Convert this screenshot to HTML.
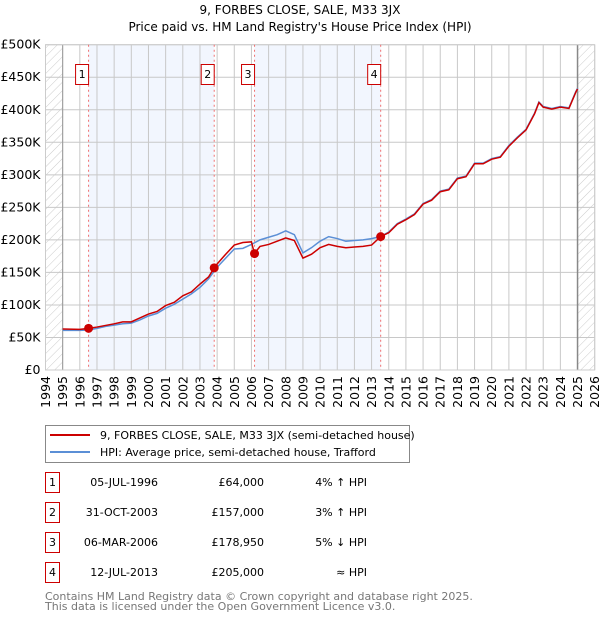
<!DOCTYPE html>
<html><head><meta charset="utf-8"><style>
body{margin:0;background:#fff;font-family:"DejaVu Sans","Liberation Sans",sans-serif;}
svg text{font-family:"DejaVu Sans","Liberation Sans",sans-serif;}
</style></head><body>
<svg id="c" width="600" height="620" xmlns="http://www.w3.org/2000/svg">
<defs><pattern id="hatch" width="6" height="6" patternUnits="userSpaceOnUse" patternTransform="rotate(45)"><line x1="0" y1="0" x2="0" y2="6" stroke="#ccc" stroke-width="1"/></pattern></defs>
<text x="300" y="14" text-anchor="middle" font-size="12">9, FORBES CLOSE, SALE, M33 3JX</text>
<text x="300" y="31" text-anchor="middle" font-size="12">Price paid vs. HM Land Registry's House Price Index (HPI)</text>
<g id="plot"></g>
<g>
<rect x="45.5" y="425.5" width="364" height="37" fill="#fff" stroke="#888"/>
<line x1="50" y1="435" x2="90" y2="435" stroke="#cc0000" stroke-width="2"/>
<text x="100" y="439" font-size="11">9, FORBES CLOSE, SALE, M33 3JX (semi-detached house)</text>
<line x1="50" y1="452" x2="90" y2="452" stroke="#5b8fd6" stroke-width="2"/>
<text x="100" y="456" font-size="11">HPI: Average price, semi-detached house, Trafford</text>
</g>
<g id="table" font-size="11"></g>
<text x="45" y="600" font-size="11" fill="#777">Contains HM Land Registry data © Crown copyright and database right 2025.</text>
<text x="45" y="610" font-size="11" fill="#777">This data is licensed under the Open Government Licence v3.0.</text>
</svg>
<script>
const years=[1994,1995,1996,1997,1998,1999,2000,2001,2002,2003,2004,2005,2006,2007,2008,2009,2010,2011,2012,2013,2014,2015,2016,2017,2018,2019,2020,2021,2022,2023,2024,2025,2026];
const yTicks=[0,50,100,150,200,250,300,350,400,450,500];
const yLabels=["£0","£50K","£100K","£150K","£200K","£250K","£300K","£350K","£400K","£450K","£500K"];
const hpiT=[1995,1995.5,1996,1996.5,1997,1997.5,1998,1998.5,1999,1999.5,2000,2000.5,2001,2001.5,2002,2002.5,2003,2003.5,2004,2004.5,2005,2005.5,2006,2006.5,2007,2007.5,2008,2008.5,2009,2009.5,2010,2010.5,2011,2011.5,2012,2012.5,2013,2013.5,2014,2014.5,2015,2015.5,2016,2016.5,2017,2017.5,2018,2018.5,2019,2019.5,2020,2020.5,2021,2021.5,2022,2022.5,2022.75,2023,2023.5,2024,2024.5,2024.9,2025];
const hpiV=[61,61,61,61.5,64,67,69,71,72,77,83,87,95,101,109,117,127,140,158,172,186,187,193,200,204,208,214,208,180,188,198,205,202,198,199,200,202,205,212,225,232,240,256,262,275,278,295,298,318,318,325,328,345,358,370,395,412,405,402,405,403,428,433];
const priceT=[1995,1996,1996.5,1997,1998,1998.5,1999,1999.5,2000,2000.5,2001,2001.5,2002,2002.5,2003,2003.5,2003.83,2004,2004.5,2005,2005.5,2006,2006.17,2006.5,2007,2007.5,2008,2008.5,2009,2009.5,2010,2010.5,2011,2011.5,2012,2012.5,2013,2013.53,2014,2014.5,2015,2015.5,2016,2016.5,2017,2017.5,2018,2018.5,2019,2019.5,2020,2020.5,2021,2021.5,2022,2022.5,2022.75,2023,2023.5,2024,2024.5,2024.9,2025];
const priceV=[63,62.5,64,66,71,74,74,80,86,90,99,104,114,120,132,143,157,163,178,192,196,197,179,190,193,198,203,199,172,178,188,193,190,188,189,190,192,205,211,224,231,239,255,261,274,277,294,297,317,317,324,327,344,357,369,394,411,404,401,404,402,427,432];
const saleT=[1996.51,2003.83,2006.18,2013.53];
const saleV=[64,157,178.95,205];
const saleLabels=["1","2","3","4"];
const saleDates=["05-JUL-1996","31-OCT-2003","06-MAR-2006","12-JUL-2013"];
const salePrices=["£64,000","£157,000","£178,950","£205,000"];
const saleHpi=["4% ↑ HPI","3% ↑ HPI","5% ↓ HPI","≈ HPI"];

const L=45.5,R=594.7,T=44.7,B=370;
const x=t=>L+(t-1994)*(R-L)/32;
const y=v=>B-v*(B-T)/500;
const NS="http://www.w3.org/2000/svg";
function mk(tag,attrs,parent){const e=document.createElementNS(NS,tag);for(const k in attrs)e.setAttribute(k,attrs[k]);parent.appendChild(e);return e;}
const g=document.getElementById('plot');
for(let i=0;i<saleT.length;i+=2){
 const r=mk('rect',{x:x(saleT[i]),y:T,width:x(saleT[i+1])-x(saleT[i]),height:B-T,fill:'#f2f6fe'},g);
 
 
}
const h1=mk('rect',{x:L,y:T,width:x(1995)-L,height:B-T,fill:'url(#hatch)'},g);


const h2=mk('rect',{x:x(2025),y:T,width:R-x(2025),height:B-T,fill:'url(#hatch)'},g);


yTicks.forEach((v,i)=>{
 const ln=mk('line',{x1:L,x2:R,y1:y(v),y2:y(v),stroke:'#c8c8c8','stroke-width':1},g);
 
 
 const t=mk('text',{x:L-5,y:y(v)+4,'text-anchor':'end','font-size':12.5},g);
 t.textContent=yLabels[i];
 
 
});
years.forEach(yr=>{
 const ln=mk('line',{x1:x(yr),x2:x(yr),y1:T,y2:B,stroke:'#c8c8c8','stroke-width':1},g);
 
 
 const t=mk('text',{transform:`translate(${x(yr)+4.5},${B+6}) rotate(-90)`,'text-anchor':'end','font-size':12.5},g);
 t.textContent=yr;
 
 
});
const ax1=mk('line',{x1:x(1995),x2:x(1995),y1:T,y2:B,stroke:'#999','stroke-width':1},g);


const ax2=mk('line',{x1:x(2025),x2:x(2025),y1:T,y2:B,stroke:'#888','stroke-width':1.5},g);


const fr=mk('rect',{x:L,y:T,width:R-L,height:B-T,fill:'none',stroke:'#ccc'},g);


saleT.forEach((t,i)=>{
 const ln=mk('line',{x1:x(t),x2:x(t),y1:T,y2:B,stroke:'#f07070','stroke-width':1,'stroke-dasharray':'2,3'},g);
 
 
 const bx=mk('rect',{x:x(t)-13,y:64.5,width:13,height:20,fill:'#fff',stroke:'#cc0000'},g);
 
 
 const tx=mk('text',{x:x(t)-6.5,y:78,'text-anchor':'middle','font-size':11},g);
 tx.textContent=saleLabels[i];
 
 
});
const hp=mk('polyline',{points:hpiT.map((t,i)=>x(t)+','+y(hpiV[i])).join(' '),fill:'none',stroke:'#5b8fd6','stroke-width':1.5},g);


const pp=mk('polyline',{points:priceT.map((t,i)=>x(t)+','+y(priceV[i])).join(' '),fill:'none',stroke:'#cc0000','stroke-width':1.5},g);


saleT.forEach((t,i)=>{
 const c=mk('circle',{cx:x(t),cy:y(saleV[i]),r:4.5,fill:'#cc0000'},g);
 
 
});
const tb=document.getElementById('table');
saleT.forEach((t,i)=>{
 const yy=483+i*30;
 const b=mk('rect',{x:45.5,y:yy-10.5,width:14,height:20,fill:'#fff',stroke:'#cc0000'},tb);
 
 
 const a=mk('text',{x:52.5,y:yy+3,'text-anchor':'middle'},tb);a.textContent=saleLabels[i];
 
 
 const d=mk('text',{x:158,y:yy+3,'text-anchor':'end'},tb);d.textContent=saleDates[i];
 
 
 const p=mk('text',{x:264,y:yy+3,'text-anchor':'end'},tb);p.textContent=salePrices[i];
 
 
 const hh=mk('text',{x:367,y:yy+3,'text-anchor':'end'},tb);hh.textContent=saleHpi[i];
 
 
});
</script>
</body></html>
